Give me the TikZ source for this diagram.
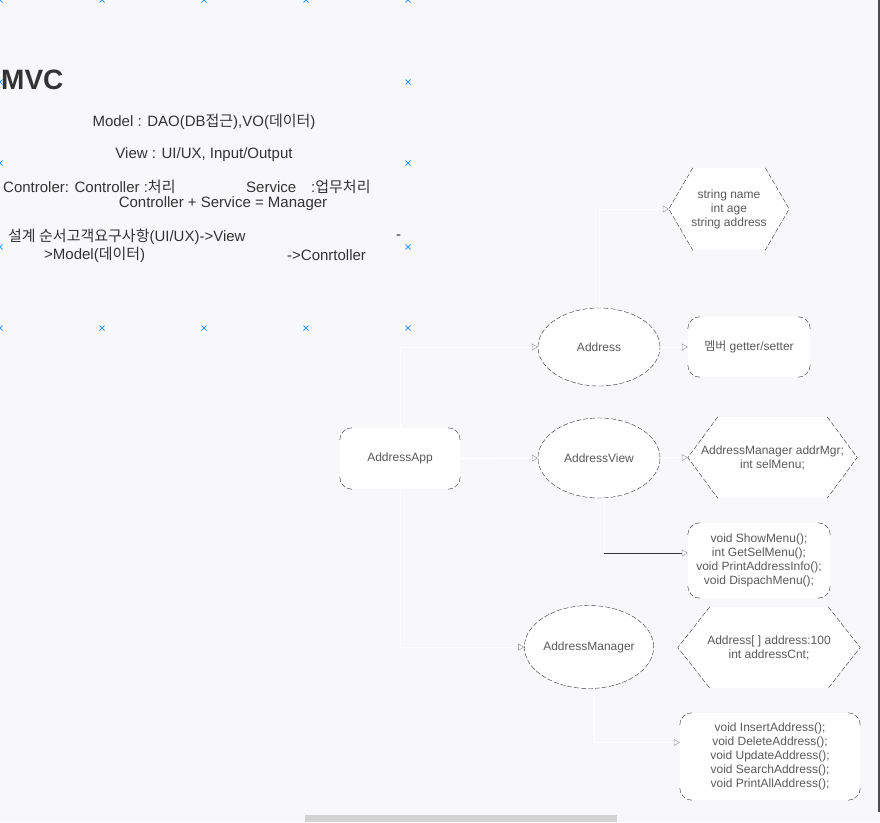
\documentclass[tikz,border=0pt]{standalone}
\usepackage{fontspec}
\setmainfont{Liberation Sans}
\newfontfamily\krfont{Noto Sans CJK KR}
\newcommand{\kr}[1]{{\krfont #1}}
\usetikzlibrary{shapes.geometric,arrows.meta,positioning,backgrounds}
\definecolor{pagebg}{RGB}{248,248,250}
\definecolor{inkgray}{RGB}{51,51,51}
\definecolor{nodetext}{RGB}{90,90,90}
\definecolor{crossblue}{RGB}{51,153,255}

\begin{document}
\begin{tikzpicture}[
  x=1pt, y=-1pt,
  headline/.style={font=\fontsize{15}{17}\selectfont, text=inkgray, inner sep=0pt},
  ellnode/.style={ellipse, draw=inkgray, dash pattern=on 5pt off 2pt, fill=white,
                  minimum width=122pt, minimum height=#1, inner sep=0pt,
                  font=\fontsize{12}{14}\selectfont, text=nodetext},
  ellnode/.default={80pt},
  hexbox/.style={rectangle, inner sep=0pt, align=center,
                 font=\fontsize{12}{14}\selectfont, text=nodetext},
  roundbox/.style={rectangle, rounded corners=12pt, fill=white, inner sep=0pt,
                   align=center, font=\fontsize{12}{14}\selectfont, text=nodetext},
  corner/.style={draw=inkgray, dash pattern=on 5pt off 2pt},
  link/.style={draw=white, line width=1pt,
               -{Triangle[fill=white, color=gray!70, line width=0.6pt, length=6pt, width=7pt]}},
  darklink/.style={link, draw=black!80},
  gridx/.style={draw=crossblue, line width=0.9pt}
]
  % Page
  \useasboundingbox (0,0) rectangle (880,822);
  \begin{scope}[on background layer]
    \fill[pagebg] (0,0) rectangle (880,822);
  \end{scope}
  \fill[black!70] (878,0) rectangle (880,812);
  \fill[gray!35] (305,815) rectangle (617,822);

  % Text box markers
  \foreach \x/\y in {0/0,102/0,204/0,306/0,408/0,0/82,408/82,0/163,408/163,
                     0/247,408/247,0/328,102/328,204/328,306/328,408/328}
    \draw[gridx] (\x-2.5,\y-2.5) -- (\x+2.5,\y+2.5) (\x-2.5,\y+2.5) -- (\x+2.5,\y-2.5);

  % Notes
  \node[font=\fontsize{28}{30}\selectfont\bfseries, text=inkgray, inner sep=0pt, anchor=west] (title) at (1,80) {MVC};
  \node[headline] (model) at (204,122) {Model : DAO(DB\kr{접근}),VO(\kr{데이터})};
  \node[headline] (viewnote) at (204,155) {View : UI/UX, Input/Output};
  \node[headline, anchor=west] (ctrl) at (3,187) {Controler: Controller :\kr{처리}};
  \node[headline, anchor=west] (service) at (246,187) {Service\quad :\kr{업무처리}};
  \node[headline] (manager) at (223,204) {Controller + Service = Manager};
  \node[headline, anchor=west] (order) at (8,237) {\kr{설계 순서고객요구사항}(UI/UX)->View};
  \node[headline, anchor=west] (dash) at (396,237) {-};
  \node[headline, anchor=west] (modelstep) at (44,255) {>Model(\kr{데이터})};
  \node[headline, anchor=west] (ctrlstep) at (287,255) {->Conrtoller};

  % Classes
  \node[roundbox, minimum width=120pt, minimum height=61pt] (app) at (400,458.5) {AddressApp};
  \node[ellnode=78pt] (addr) at (599,347) {Address};
  \node[ellnode] (view) at (599,458) {AddressView};
  \node[ellnode=83pt] (mgr) at (589,647) {AddressManager};

  % Members
  \node[hexbox, minimum width=120pt, minimum height=82pt] (fields) at (729,209)
    {string name\\int age\\string address};
  \node[roundbox, minimum width=122pt, minimum height=60pt] (getset) at (749,347)
    {\kr{멤버} getter/setter};
  \node[hexbox, minimum width=169pt, minimum height=81pt] (viewvars) at (772.5,457.5)
    {AddressManager addrMgr;\\int selMenu;};
  \node[roundbox, minimum width=142pt, minimum height=75pt] (viewfn) at (759,560.5)
    {void ShowMenu();\\int GetSelMenu();\\void PrintAddressInfo();\\void DispachMenu();};
  \node[hexbox, minimum width=182pt, minimum height=81pt] (mgrvars) at (769,647.5)
    {Address[ ] address:100\\int addressCnt;};
  \node[roundbox, minimum width=180pt, minimum height=87pt] (mgrfn) at (770,756.5)
    {void InsertAddress();\\void DeleteAddress();\\void UpdateAddress();\\void SearchAddress();\\void PrintAllAddress();};

  % Hexagon outlines (slanted sides only)
  \begin{scope}[on background layer]
    \foreach \h/\d in {fields/24,viewvars/30,mgrvars/32} {
      \fill[white] (\h.west) -- ([xshift=\d pt]\h.north west) -- ([xshift=-\d pt]\h.north east)
        -- (\h.east) -- ([xshift=-\d pt]\h.south east) -- ([xshift=\d pt]\h.south west) -- cycle;
      \draw[corner] ([xshift=\d pt]\h.north west) -- (\h.west) -- ([xshift=\d pt]\h.south west);
      \draw[corner] ([xshift=-\d pt]\h.north east) -- (\h.east) -- ([xshift=-\d pt]\h.south east);
    }
  \end{scope}

  % Rounded box corners
  \foreach \b in {app,getset,viewfn,mgrfn} {
    \draw[corner] ([yshift=-12pt]\b.north west) arc[start angle=180, end angle=90, radius=12pt];
    \draw[corner] ([xshift=-12pt]\b.north east) arc[start angle=90, end angle=0, radius=12pt];
    \draw[corner] ([yshift=12pt]\b.south east) arc[start angle=0, end angle=-90, radius=12pt];
    \draw[corner] ([xshift=12pt]\b.south west) arc[start angle=270, end angle=180, radius=12pt];
  }

  % Connectors
  \draw[link] (app.north) |- (addr.west);
  \draw[link] (app.east) -- (view.west);
  \draw[link] (app.south) |- (mgr.west);
  \draw[link] (addr.north) |- (fields.west);
  \draw[link] (addr.east) -- (getset.west);
  \draw[link] (view.east) -- (viewvars.west);
  \coordinate (vbend) at (604,553);
  \draw[draw=white, line width=1pt] ([xshift=5pt]view.south) -- (vbend);
  \draw[darklink] (vbend) -- (vbend -| viewfn.west);
  \draw[link] ([xshift=5pt]mgr.south) |- ([yshift=14pt]mgrfn.west);
\end{tikzpicture}
\end{document}
